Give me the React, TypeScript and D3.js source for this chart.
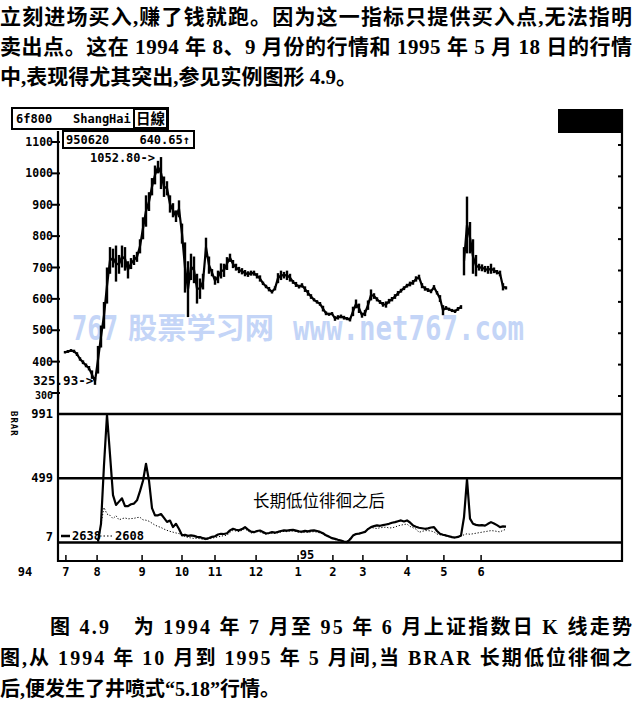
import React from "react";
import * as d3 from "d3";

// ---------- DATA ----------
const introLines = [
  "立刻进场买入,赚了钱就跑。因为这一指标只提供买入点,无法指明",
  "卖出点。这在 1994 年 8、9 月份的行情和 1995 年 5 月 18 日的行情",
  "中,表现得尤其突出,参见实例图形 4.9。",
];
const captionLines = [
  "图 4.9　为 1994 年 7 月至 95 年 6 月上证指数日 K 线走势",
  "图,从 1994 年 10 月到 1995 年 5 月间,当 BRAR 长期低位徘徊之",
  "后,便发生了井喷式“5.18”行情。",
];

// daily-bar samples (trading-day sample index 0..147), Shanghai composite
const priceLow = [
  426, 428, 431, 428, 418, 403, 392, 382, 372, 345,
  326, 362, 445, 505, 585, 680, 700, 655, 680, 700,
  690, 665, 695, 708, 718, 745, 790, 830, 880, 930,
  965, 1000, 950, 925, 930, 875, 860, 845, 860, 776,
  620, 542, 660, 650, 585, 600, 630, 733, 680, 672,
  645, 650, 665, 670, 692, 718, 698, 690, 682, 678,
  672, 670, 674, 674, 665, 655, 644, 634, 624, 617,
  627, 650, 660, 665, 660, 655, 648, 638, 633, 636,
  622, 610, 600, 592, 585, 578, 560, 548, 546, 548,
  530, 534, 538, 534, 532, 528, 545, 570, 555, 540,
  545, 565, 595, 600, 592, 584, 575, 572, 585, 592,
  600, 610, 620, 628, 636, 640, 645, 655, 662, 634,
  626, 622, 618, 630, 614, 590, 548, 565, 562, 558,
  555, 562, 568, 675, 745, 745, 680, 672, 690, 688,
  685, 680, 680, 682, 678, 672, 627, 630,
];
const priceHigh = [
  434, 437, 440, 438, 430, 414, 404, 394, 386, 372,
  348, 450, 515, 590, 700, 765, 760, 770, 740, 770,
  765, 720, 730, 740, 750, 790, 860, 930, 940, 985,
  1025, 1040, 1052, 990, 975, 930, 905, 882, 914, 840,
  780, 720, 744, 735, 680, 665, 680, 795, 735, 695,
  672, 690, 713, 712, 733, 744, 724, 712, 702, 698,
  692, 688, 690, 690, 682, 675, 655, 645, 638, 628,
  640, 682, 690, 686, 690, 680, 660, 654, 645, 650,
  640, 628, 615, 602, 596, 590, 578, 560, 556, 558,
  545, 548, 550, 546, 542, 540, 575, 598, 585, 556,
  565, 595, 630, 618, 605, 596, 590, 592, 600, 606,
  615, 625, 632, 640, 648, 655, 660, 672, 677, 650,
  640, 634, 630, 644, 625, 612, 580, 577, 572, 568,
  566, 574, 580, 765, 926, 845, 790, 740, 712, 710,
  705, 705, 712, 700, 692, 690, 650, 640,
];
// sample index where the price opened with a gap (5.18)
const priceGaps = [133];

// BRAR starts at sample 11
const brarStart = 11;
const brValues = [
  15, 150, 600, 985, 680, 370, 295, 320, 345,
  285, 285, 300, 305, 330, 400, 480, 610, 480, 270,
  215, 215, 225, 195, 165, 175, 125, 150, 110, 62,
  65, 58, 62, 58, 50, 48, 40, 35, 42, 50,
  55, 68, 74, 72, 78, 100, 112, 105, 100, 110,
  125, 105, 90, 86, 95, 99, 88, 76, 80, 86,
  82, 88, 95, 100, 98, 102, 104, 98, 92, 90,
  96, 92, 98, 100, 95, 88, 78, 62, 52, 40,
  35, 28, 22, 15, 10, 30, 60, 72, 75, 82,
  88, 110, 125, 132, 138, 135, 140, 145, 150, 158,
  163, 170, 176, 168, 176, 160, 138, 128, 120, 116,
  112, 115, 122, 125, 95, 74, 66, 61, 55, 48,
  45, 50, 60, 200, 492, 190, 150, 142, 138, 140,
  136, 150, 163, 152, 140, 125, 130, 128,
];
const arValues = [
  12, 150, 275, 225, 215, 190, 212, 180, 190,
  195, 188, 190, 192, 198, 200, 180, 178, 170, 155,
  140, 130, 122, 110, 100, 92, 86, 80, 75, 68,
  52, 46, 42, 38, 40, 36, 32, 28, 34, 40,
  45, 50, 55, 60, 62, 85, 100, 95, 90, 100,
  112, 95, 80, 82, 90, 88, 78, 70, 75, 80,
  76, 82, 88, 92, 90, 95, 96, 90, 85, 82,
  86, 84, 88, 90, 86, 80, 72, 58, 48, 38,
  30, 22, 16, 14, 18, 40, 58, 66, 74, 80,
  92, 112, 122, 118, 114, 120, 122, 125, 118, 120,
  125, 135, 140, 145, 148, 130, 120, 110, 85, 92,
  98, 98, 95, 88, 72, 66, 62, 55, 50, 48,
  46, 48, 55, 66, 74, 70, 74, 78, 82, 86,
  90, 94, 98, 96, 92, 88, 100, 108,
];

const monthLabels = ["7", "8", "9", "10", "11", "12", "1", "2", "3", "4", "5", "6"];
const monthPos = [0.3, 10.7, 25.7, 39, 50, 63.7, 77.7, 89.3, 99.3, 114, 126.3, 138.7];
const priceTicks = [300, 400, 500, 600, 700, 800, 900, 1000, 1100];
const brarTicks = [991, 499, 7];

const MONO = "'DejaVu Sans Mono', monospace";
const CJK = "'Liberation Serif', 'Noto Sans CJK SC', serif";

export default function App() {
  const n = priceLow.length;
  const x = d3.scaleLinear().domain([0, n - 1]).range([65, 506]);
  const yP = d3.scaleLinear().domain([300, 1100]).range([393, 142]);
  const yB = d3.scaleLinear().domain([7, 991]).range([542.5, 414]);

  const axisX = 58;
  const rightX = 622;
  const bottomY = 561;

  const brLine = d3
    .line<number>()
    .x((_, i) => x(i + brarStart))
    .y((d) => yB(d))
    .curve(d3.curveLinear);

  // mid-range trace of the daily bars, broken at price gaps
  type Pt = { i: number; v: number } | null;
  const trace: Pt[] = [];
  priceLow.forEach((lo, i) => {
    if (priceGaps.includes(i)) trace.push(null);
    trace.push({ i, v: (lo + priceHigh[i]) / 2 });
  });
  const priceLine = d3
    .line<Pt>()
    .defined((d) => d !== null)
    .x((d) => x((d as any).i))
    .y((d) => yP((d as any).v));

  return (
    <svg
      width={636}
      height={709}
      style={{ position: "absolute", left: 0, top: 0, background: "#fff" }}
    >
      <rect width={636} height={709} fill="#fff" />

      {/* intro paragraph */}
      {introLines.map((t, i) => (
        <text
          key={"in" + i}
          x={0}
          y={24 + i * 30}
          fontFamily={CJK}
          fontWeight="bold"
          fontSize={21}
          textLength={i < 2 ? 632 : undefined}
          lengthAdjust="spacing"
        >
          {t}
        </text>
      ))}

      {/* watermark */}
      <g fill="#c4d5f7" fontWeight="bold">
        <text x={72} y={340} fontFamily={MONO} fontSize={34} textLength={46} lengthAdjust="spacingAndGlyphs">
          767
        </text>
        <text x={128} y={339} fontFamily="'Noto Sans CJK SC'" fontSize={29} textLength={146} lengthAdjust="spacingAndGlyphs">
          股票学习网
        </text>
        <text x={293} y={340} fontFamily={MONO} fontSize={34} textLength={231} lengthAdjust="spacingAndGlyphs">
          www.net767.com
        </text>
      </g>

      {/* header boxes */}
      <rect x={12} y={108} width={156} height={21} fill="none" stroke="#000" strokeWidth={2} />
      <text x={16} y={123} fontFamily={MONO} fontWeight="bold" fontSize={12}>6f800</text>
      <text x={73} y={123} fontFamily={MONO} fontWeight="bold" fontSize={12}>ShangHai</text>
      <rect x={134} y={109} width={33} height={19} fill="none" stroke="#000" strokeWidth={2} />
      <text x={136} y={124} fontFamily="'Noto Sans CJK SC'" fontWeight="bold" fontSize={14.5}>日線</text>

      <rect x={63} y={131} width={131} height={17} fill="#fff" stroke="#000" strokeWidth={2} />
      <text x={66} y={144} fontFamily={MONO} fontWeight="bold" fontSize={12}>950620</text>
      <text x={190} y={144} textAnchor="end" fontFamily={MONO} fontWeight="bold" fontSize={12}>640.65↑</text>

      <rect x={558} y={109} width={65} height={24} fill="#000" />

      {/* frame */}
      <line x1={axisX} x2={axisX} y1={131} y2={bottomY + 1} stroke="#000" strokeWidth={2.2} />
      <line x1={rightX} x2={rightX} y1={109} y2={bottomY + 1} stroke="#000" strokeWidth={2.2} />
      <line x1={axisX} x2={rightX} y1={bottomY} y2={bottomY} stroke="#000" strokeWidth={2.2} />

      {/* price axis ticks */}
      {priceTicks.map((v) => (
        <g key={"pt" + v}>
          <line x1={axisX - 6} x2={axisX + 2} y1={yP(v)} y2={yP(v)} stroke="#000" strokeWidth={2} />
          <text
            x={axisX - 5}
            y={yP(v) + (v === 300 ? 6 : 4)}
            textAnchor="end"
            fontFamily={MONO}
            fontWeight="bold"
            fontSize={v === 300 ? 10 : 11.5}
          >
            {v}
          </text>
          <line x1={rightX - 4} x2={rightX} y1={yP(v) + 3} y2={yP(v) + 3} stroke="#000" strokeWidth={2} />
        </g>
      ))}

      {/* price bars */}
      <path d={priceLine(trace) || ""} fill="none" stroke="#000" strokeWidth={2.2} strokeLinejoin="round" />
      <g stroke="#000" strokeWidth={2.4}>
        {priceLow.map((lo, i) => {
          let y1 = yP(priceHigh[i]);
          let y2 = yP(lo);
          if (y2 - y1 < 2) {
            y1 -= 1;
            y2 += 1;
          }
          return <line key={"b" + i} x1={x(i)} x2={x(i)} y1={y1} y2={y2} />;
        })}
      </g>

      <text x={90} y={162} fontFamily={MONO} fontWeight="bold" fontSize={12}>1052.80-&gt;</text>
      <text x={33} y={385} fontFamily={MONO} fontWeight="bold" fontSize={12.5}>325.93-&gt;</text>

      {/* BRAR panel */}
      {brarTicks.map((v) => (
        <g key={"bt" + v}>
          <line x1={axisX} x2={rightX} y1={yB(v)} y2={yB(v)} stroke="#000" strokeWidth={2.4} />
          <text
            x={axisX - 5}
            y={(v === 7 ? yB(v) - 6 : yB(v)) + 4}
            textAnchor="end"
            fontFamily={MONO}
            fontWeight="bold"
            fontSize={12}
          >
            {v}
          </text>
        </g>
      ))}
      <text
        transform="translate(11,411) rotate(90)"
        fontFamily={MONO}
        fontWeight="bold"
        fontSize={9}
        letterSpacing={1}
      >
        BRAR
      </text>

      <path
        d={brLine(arValues) || ""}
        fill="none"
        stroke="#000"
        strokeWidth={1}
        strokeDasharray="1.2,1.8"
      />
      <path d={brLine(brValues) || ""} fill="none" stroke="#000" strokeWidth={2.2} strokeLinejoin="round" />

      <line x1={61} x2={70} y1={536} y2={536} stroke="#000" strokeWidth={2.5} />
      <text x={72} y={540} fontFamily={MONO} fontWeight="bold" fontSize={12}>2638</text>
      <line x1={100} x2={113} y1={536} y2={536} stroke="#000" strokeWidth={1.2} strokeDasharray="1.5,2" />
      <text x={115} y={540} fontFamily={MONO} fontWeight="bold" fontSize={12}>2608</text>

      <text x={253} y={507} fontFamily="'Noto Sans CJK SC'" fontSize={16.5}>长期低位徘徊之后</text>

      {/* x axis */}
      {monthPos.map((p, i) => (
        <g key={"m" + i}>
          <line x1={x(p)} x2={x(p)} y1={bottomY - 6} y2={bottomY} stroke="#000" strokeWidth={1.5} />
          <text
            x={x(p)}
            y={576}
            textAnchor="middle"
            fontFamily={MONO}
            fontWeight="bold"
            fontSize={12}
          >
            {monthLabels[i]}
          </text>
        </g>
      ))}
      <text x={25} y={576} textAnchor="middle" fontFamily={MONO} fontWeight="bold" fontSize={12}>94</text>
      <text x={307} y={559} textAnchor="middle" fontFamily={MONO} fontWeight="bold" fontSize={12}>95</text>

      {/* caption */}
      {captionLines.map((t, i) => (
        <text
          key={"cap" + i}
          x={i === 0 ? 50 : 0}
          y={634 + i * 31}
          fontFamily={CJK}
          fontWeight="bold"
          fontSize={20}
          textLength={i === 0 ? 582 : i === 1 ? 632 : undefined}
          lengthAdjust="spacing"
        >
          {t}
        </text>
      ))}
    </svg>
  );
}
